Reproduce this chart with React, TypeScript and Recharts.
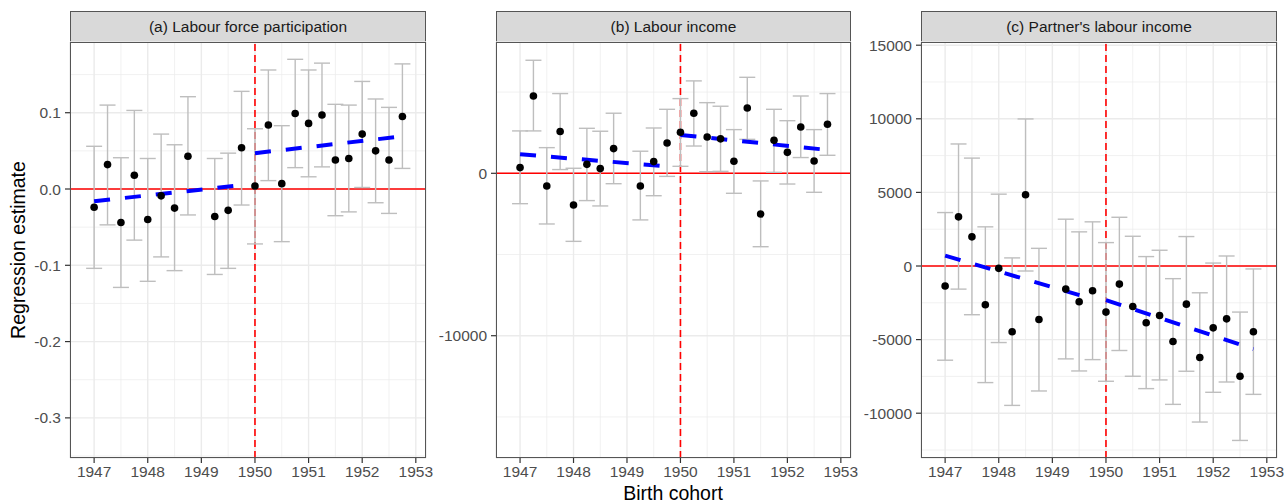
import { ComposedChart, Scatter, ErrorBar, XAxis, YAxis, CartesianGrid, ReferenceLine } from 'recharts';

// birth cohorts (quarters), 1949 Q1 is the omitted reference quarter
const cohorts = [
  1947, 1947.25, 1947.5, 1947.75, 1948, 1948.25, 1948.5, 1948.75,
  1949.25, 1949.5, 1949.75, 1950, 1950.25, 1950.5, 1950.75, 1951,
  1951.25, 1951.5, 1951.75, 1952, 1952.25, 1952.5, 1952.75,
];

const yearTicks = [1947, 1948, 1949, 1950, 1951, 1952, 1953];
const minorYears = [1947.5, 1948.5, 1949.5, 1950.5, 1951.5, 1952.5];

// (a) labour force participation
const lfpEst = [-0.024, 0.032, -0.044, 0.018, -0.040, -0.009, -0.025, 0.043, -0.036, -0.028, 0.054, 0.004, 0.084, 0.007, 0.099, 0.086, 0.097, 0.038, 0.040, 0.072, 0.050, 0.038, 0.095];
const lfpLow = [-0.104, -0.047, -0.129, -0.067, -0.121, -0.089, -0.107, -0.034, -0.112, -0.104, -0.021, -0.072, 0.011, -0.069, 0.028, 0.016, 0.029, -0.035, -0.030, 0.002, -0.018, -0.032, 0.027];
const lfpHigh = [0.056, 0.110, 0.041, 0.103, 0.040, 0.072, 0.058, 0.121, 0.040, 0.047, 0.128, 0.079, 0.156, 0.083, 0.170, 0.156, 0.165, 0.111, 0.110, 0.141, 0.118, 0.107, 0.164];

// (b) labour income
const incEst = [350, 4760, -780, 2570, -1950, 550, 290, 1520, -780, 720, 1870, 2530, 3700, 2240, 2120, 740, 4020, -2510, 2030, 1290, 2850, 760, 3020];
const incLow = [-1870, 2610, -3120, 230, -4190, -1680, -2010, -640, -2870, -1380, -190, 430, 1680, 100, 120, -1230, 2090, -4520, 60, -660, 970, -1170, 1110];
const incHigh = [2610, 6960, 1580, 4910, 310, 2770, 2590, 3700, 1360, 2790, 3940, 4600, 5690, 4350, 4130, 2690, 5910, -470, 3940, 3240, 4760, 2690, 4910];

// (c) partner's labour income
const partEst = [-1360, 3340, 1980, -2630, -160, -4470, 4840, -3630, -1570, -2430, -1680, -3130, -1230, -2750, -3860, -3360, -5130, -2590, -6220, -4200, -3590, -7490, -4470];
const partLow = [-6400, -1570, -3310, -7920, -5200, -9470, -340, -8490, -6310, -7130, -6360, -7830, -5740, -7490, -8330, -7740, -9400, -7150, -10600, -8580, -7880, -11850, -8720];
const partHigh = [3630, 8290, 7330, 2660, 4880, 550, 9990, 1200, 3180, 2320, 3000, 1590, 3310, 2020, 640, 1070, -860, 2000, -1820, 200, 680, -3130, -200];

// linear fits either side of the 1950 cutoff
const fitPreX = [1947, 1949.75];
const fitPostX = [1950, 1952.75];
const lfpFitPre = [-0.016, 0.005];
const lfpFitPost = [0.047, 0.069];
const incFitPre = [1170, 430];
const incFitPost = [2360, 1440];
const partFitPre = [700, -2240];
const partFitPost = [-2320, -5640];

const FONT = '"Liberation Sans", Arial, sans-serif';

const buildRows = (est: number[], low: number[], high: number[]) =>
  cohorts.map((x, i) => ({ x, est: est[i], err: [est[i] - low[i], high[i] - est[i]] }));

const seg = (xs: number[], ys: number[]) => xs.map((x, i) => ({ x, y: ys[i] }));

const Dot = (props: any) => <circle cx={props.cx} cy={props.cy} r={3.8} fill="#000" />;

interface PanelProps {
  title: string;
  left: number;
  width: number;
  yWidth: number;
  right: number;
  est: number[];
  low: number[];
  high: number[];
  domain: [number, number];
  ticks: number[];
  minorY: number[];
  fitPre: number[];
  fitPost: number[];
  fmt: (v: number) => string;
}

const Panel = (p: PanelProps) => {
  const rows = buildRows(p.est, p.low, p.high);
  const plotW = p.width - p.yWidth - p.right;
  return (
    <div style={{ position: 'absolute', left: p.left, top: 0, width: p.width, height: 504 }}>
      <div style={{
        position: 'absolute', left: p.yWidth, top: 11, width: plotW, height: 32, boxSizing: 'border-box',
        background: '#d9d9d9', border: '1px solid #555', color: '#1a1a1a', fontSize: 15.5,
        display: 'flex', alignItems: 'center', justifyContent: 'center',
      }}>{p.title}</div>
      <ComposedChart width={p.width} height={504} margin={{ top: 42, right: p.right, bottom: 0, left: 0 }}>
        <CartesianGrid stroke="#ebebeb" strokeWidth={1.4} />
        {minorYears.map(v => <ReferenceLine key={'mx' + v} x={v} stroke="#ebebeb" strokeWidth={0.7} />)}
        {p.minorY.map(v => <ReferenceLine key={'my' + v} y={v} stroke="#ebebeb" strokeWidth={0.7} />)}
        <XAxis type="number" dataKey="x" domain={[1946.55, 1953.19]} ticks={yearTicks} allowDataOverflow
          height={46} axisLine={false} tickSize={5} tickMargin={3} tickLine={{ stroke: '#333', strokeWidth: 1.2 }}
          tick={{ fill: '#4d4d4d', fontSize: 15.5 }} />
        <YAxis type="number" dataKey="est" domain={p.domain} ticks={p.ticks} allowDataOverflow width={p.yWidth}
          axisLine={false} tickSize={5} tickMargin={4} tickLine={{ stroke: '#333', strokeWidth: 1.2 }}
          tick={{ fill: '#4d4d4d', fontSize: 15.5 }} tickFormatter={p.fmt} />
        <ReferenceLine y={0} stroke="#ff0000" strokeWidth={1.6} />
        <ReferenceLine x={1950} stroke="#ff0000" strokeWidth={1.6} strokeDasharray="7 4" />
        <Scatter data={rows} fill="#000" shape={Dot} isAnimationActive={false}>
          <ErrorBar dataKey="err" direction="y" width={8} stroke="#bebebe" strokeWidth={1.4} isAnimationActive={false} />
        </Scatter>
        <ReferenceLine segment={seg(fitPreX, p.fitPre)} stroke="#0000ff" strokeWidth={4} strokeDasharray="16 15" />
        <ReferenceLine segment={seg(fitPostX, p.fitPost)} stroke="#0000ff" strokeWidth={4} strokeDasharray="16 15" />
      </ComposedChart>
      <div style={{
        position: 'absolute', left: p.yWidth, top: 42, width: plotW, height: 416, boxSizing: 'border-box',
        border: '1px solid #555', pointerEvents: 'none',
      }} />
    </div>
  );
};

const App = () => {
  return (
    <div style={{ position: 'absolute', left: 0, top: 0, width: 1284, height: 504, background: '#fff', fontFamily: FONT }}>
      <Panel title="(a) Labour force participation" left={0} width={450} yWidth={70} right={24}
        est={lfpEst} low={lfpLow} high={lfpHigh} domain={[-0.3526, 0.1927]}
        ticks={[-0.3, -0.2, -0.1, 0, 0.1]} minorY={[-0.35, -0.25, -0.15, -0.05, 0.05, 0.15]}
        fitPre={lfpFitPre} fitPost={lfpFitPost} fmt={v => v.toFixed(1)} />
      <Panel title="(b) Labour income" left={430} width={445} yWidth={66} right={24}
        est={incEst} low={incLow} high={incHigh} domain={[-17530, 8085]}
        ticks={[-10000, 0]} minorY={[-15000, -5000, 5000]}
        fitPre={incFitPre} fitPost={incFitPost} fmt={v => String(v)} />
      <Panel title="(c) Partner's labour income" left={855} width={429} yWidth={66} right={7}
        est={partEst} low={partLow} high={partHigh} domain={[-13043, 15217]}
        ticks={[-10000, -5000, 0, 5000, 10000, 15000]} minorY={[-12500, -7500, -2500, 2500, 7500, 12500]}
        fitPre={partFitPre} fitPost={partFitPost} fmt={v => String(v)} />
      <div style={{ position: 'absolute', left: 0, top: 250, width: 0, height: 0 }}>
        <div style={{
          position: 'absolute', left: 18, top: 0, transform: 'translate(-50%, -50%) rotate(-90deg)',
          whiteSpace: 'nowrap', fontSize: 19.5, color: '#000',
        }}>Regression estimate</div>
      </div>
      <div style={{
        position: 'absolute', left: 573, width: 200, top: 482, textAlign: 'center', fontSize: 19.5, color: '#000',
      }}>Birth cohort</div>
    </div>
  );
};

export default App;
